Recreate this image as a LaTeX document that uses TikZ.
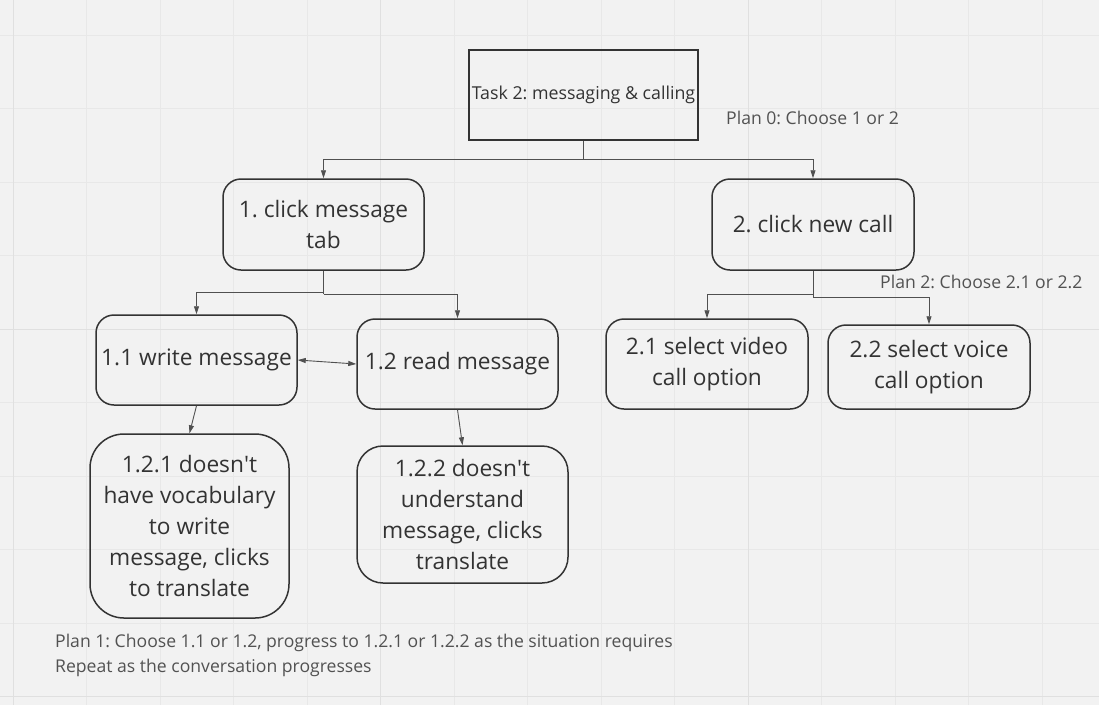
\documentclass[tikz,border=0pt]{standalone}
\usepackage{fontspec}
\setmainfont{Open Sans}
\usetikzlibrary{arrows.meta}
\frenchspacing
\definecolor{bg}{HTML}{F2F2F2}
\definecolor{gridminor}{HTML}{E8E8E8}
\definecolor{gridmajor}{HTML}{E0E0E0}
\definecolor{ink}{HTML}{333333}
\definecolor{wire}{HTML}{505050}
\tikzset{
  box/.style={draw=ink, line width=1.5pt, rounded corners=18pt, text=ink, align=center, inner sep=0pt,
    font=\fontsize{22.7}{31}\selectfont},
  taskbox/.style={draw=ink, line width=1.5pt, text=ink, align=center, inner sep=0pt,
    font=\fontsize{17.8}{20}\selectfont},
  plan/.style={text=ink!85, inner sep=0pt, font=\fontsize{17.6}{25}\selectfont},
  conn/.style={draw=wire, line width=0.9pt, -{Stealth[length=8pt,width=5pt,inset=0pt]}},
  dconn/.style={draw=wire, line width=0.9pt, {Stealth[length=8pt,width=5pt,inset=0pt]}-{Stealth[length=8pt,width=5pt,inset=0pt]}},
  plainline/.style={draw=wire, line width=0.9pt}
}
\begin{document}
\begin{tikzpicture}[x=1pt,y=-1pt]
\fill[bg] (0,0) rectangle (1099,705);
\useasboundingbox (0,0) rectangle (1099,705);
\foreach \i in {0,...,15} {
  \draw[gridminor, line width=0.8pt] ({13.3+73.5*\i},0) -- ({13.3+73.5*\i},705);
}
\foreach \j in {0,...,9} {
  \draw[gridminor, line width=0.8pt] (0,{35+73.5*\j}) -- (1099,{35+73.5*\j});
}
\foreach \i in {0,5,10,15} {
  \draw[gridmajor, line width=1pt] ({13.3+73.5*\i},0) -- ({13.3+73.5*\i},705);
}
\foreach \j in {4,9} {
  \draw[gridmajor, line width=1pt] (0,{35+73.5*\j}) -- (1099,{35+73.5*\j});
}

\node[taskbox, minimum width=229pt, minimum height=90pt] (task) at (583.5,95) {Task 2: messaging \& calling};
\node[plan, anchor=west] (plan0) at (726,118) {Plan 0: Choose 1 or 2};

\node[box, minimum width=201pt, minimum height=91pt] (b1) at (323.5,224.5) {1. click message\\tab};
\node[box, minimum width=202pt, minimum height=91pt] (b2) at (813,224.5) {2. click new call};
\node[plan, anchor=west] (plan2) at (880,282) {Plan 2: Choose 2.1 or 2.2};

\node[box, minimum width=201pt, minimum height=90pt] (b11) at (196.5,360) {1.1 write message};
\node[box, minimum width=201pt, minimum height=90pt] (b12) at (457.5,364) {1.2 read message};
\node[box, minimum width=202pt, minimum height=90pt] (b21) at (707,364) {2.1 select video\\call option};
\node[box, minimum width=202pt, minimum height=84pt] (b22) at (929,367) {2.2 select voice\\call option};

\node[box, rounded corners=34pt, minimum width=199pt, minimum height=184pt] (b121) at (189.5,526) {1.2.1 doesn\textquotesingle t\\have vocabulary\\to write\\message, clicks\\to translate};
\node[box, rounded corners=26pt, minimum width=211pt, minimum height=137pt] (b122) at (462.5,514.5) {1.2.2 doesn\textquotesingle t\\understand\\message, clicks\\translate};

\node[plan, anchor=base west, align=left] (plan1) at (55,672) {Plan 1: Choose 1.1 or 1.2, progress to 1.2.1 or 1.2.2 as the situation requires\\Repeat as the conversation progresses};

\coordinate (j0) at (583.5,159);
\draw[plainline] (task.south) -- (j0);
\draw[conn] (j0) -| (b1.north);
\draw[conn] (j0) -| (b2.north);

\coordinate (j1a) at (323.5,292);
\coordinate (j1b) at (323.5,294);
\draw[plainline] (b1.south) -- (j1b);
\draw[conn] (j1a) -| (b11.north);
\draw[conn] (j1b) -| (b12.north);

\coordinate (j2a) at (813,294);
\coordinate (j2b) at (813,297);
\draw[plainline] (b2.south) -- (j2b);
\draw[conn] (j2a) -| (b21.north);
\draw[conn] (j2b) -| (b22.north);

\draw[dconn] (b11.east) -- (b12.west);
\draw[conn] (b11.south) -- (b121.north);
\draw[conn] (b12.south) -- (b122.north);
\end{tikzpicture}
\end{document}
